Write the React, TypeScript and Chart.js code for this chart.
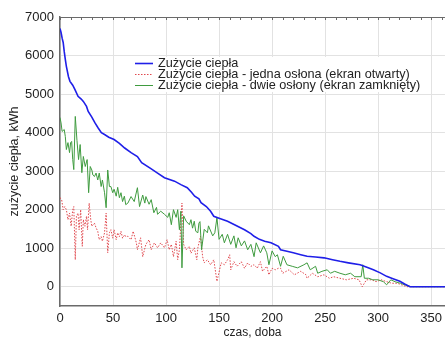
import React, { useEffect, useRef } from 'react';
import { Chart, registerables } from 'chart.js';

Chart.register(...registerables);

// ---- data (days of year, kWh) ----
const blueDays = [0, 1, 2, 3, 4, 5, 6, 8, 9.4, 12, 14, 17, 20, 22, 25, 26.6, 30, 33, 36, 39, 42, 46, 51, 56, 61, 67, 73, 77, 85, 92, 98.5, 108, 114, 120, 124, 127, 131, 133, 138, 142, 145, 150, 158, 166, 174, 180, 183, 188, 193, 199, 206, 208, 214, 220, 227, 233, 241, 249, 257, 264, 272, 283, 290, 295.5, 302, 308, 314, 320.5, 325, 330, 365];
const blueVals = [6700, 6600, 6450, 6340, 6100, 5900, 5720, 5450, 5330, 5230, 5120, 4940, 4870, 4810, 4680, 4550, 4400, 4250, 4120, 4000, 3950, 3880, 3820, 3720, 3600, 3480, 3380, 3220, 3080, 2950, 2830, 2740, 2650, 2570, 2450, 2350, 2280, 2180, 2080, 1960, 1830, 1780, 1700, 1590, 1480, 1380, 1310, 1230, 1180, 1140, 1050, 960, 920, 880, 830, 790, 770, 750, 700, 660, 620, 570, 500, 440, 360, 270, 210, 140, 70, 0, 0];

const redDays = [0, 1.5, 3, 4.5, 6, 7.5, 9, 10.5, 12, 13, 14.4, 15.5, 17, 18, 19.5, 21, 22, 23.5, 25, 26, 27.5, 29, 30, 32.5, 34, 35.6, 37, 38.8, 40, 42, 43.5, 45, 46.6, 48, 49.7, 51, 53, 54.4, 56, 57.5, 59, 61, 62, 64, 67, 69, 72, 73, 76, 78, 81, 84, 86, 89, 92, 95, 98.5, 101, 103, 105, 107, 109.5, 111, 112.6, 115, 116.6, 119, 122, 123.5, 126.6, 128, 129, 130, 132.5, 134.5, 136, 139, 142, 145, 148, 152, 155, 158, 160, 161, 164, 167, 171, 174, 177, 180, 183, 186, 189, 191, 195, 197, 200, 203, 206, 208, 210, 216, 221, 227, 232, 233, 238, 243, 249, 254, 258, 264, 270, 277, 282, 285, 289, 294, 298, 303, 308, 313, 318, 323, 327, 365];
const redVals = [2310, 2270, 2000, 2080, 2000, 1740, 1910, 1570, 2000, 2080, 700, 1830, 1910, 1480, 2000, 1050, 1740, 1570, 1830, 1480, 2170, 1740, 1570, 1650, 1530, 1440, 1220, 1300, 1180, 1400, 1910, 880, 1400, 1480, 1260, 1480, 1220, 1400, 1300, 1440, 1260, 1350, 1300, 1310, 1220, 1440, 1140, 960, 1270, 780, 1100, 1220, 960, 1140, 1010, 1140, 1010, 1220, 960, 1100, 780, 1180, 700, 960, 2170, 1100, 960, 1050, 870, 1010, 830, 700, 1010, 1310, 780, 620, 700, 570, 700, 140, 620, 570, 700, 830, 440, 650, 530, 650, 480, 620, 530, 570, 480, 650, 400, 530, 310, 480, 440, 480, 480, 350, 440, 310, 400, 310, 220, 350, 260, 310, 220, 260, 220, 180, 220, 180, 0, 180, 180, 130, 180, 130, 90, 90, 40, 0, 0];

const greenDays = [0, 1, 2, 4, 5, 6, 7.5, 9, 10, 11, 12, 13, 14.4, 16, 17.5, 19, 20.6, 22, 23.8, 25.6, 27, 28.5, 30, 31, 32.5, 34, 35.6, 37, 38.8, 40, 42, 43.5, 45, 46.6, 48, 49.7, 51, 53, 54.4, 56, 57.5, 59, 60.7, 62, 64, 67, 70, 73, 75, 78, 80, 81, 84, 86, 88.5, 91, 92, 95, 98.5, 101.6, 103, 105, 107, 109.5, 111, 112.6, 114, 115, 116.6, 119, 122, 123.5, 125, 126.6, 128, 130, 131, 132, 133.5, 136, 139, 140, 144, 146, 148, 150, 153, 155, 158, 161, 164, 166, 168, 171, 174, 177, 180, 183, 185, 189, 192, 195, 197, 200, 203, 205, 208, 210.5, 214, 219, 224, 230, 233, 236, 241, 243, 247, 252, 255, 259, 264, 269, 274, 278, 284, 285.5, 287, 291, 295, 300, 305, 308, 312, 316, 321, 326, 331, 365];
const greenVals = [4390, 4250, 4030, 4080, 3900, 3560, 3740, 3480, 3740, 3770, 3300, 3040, 4420, 3800, 3300, 3690, 2960, 3380, 3120, 3300, 2440, 3120, 3030, 2900, 2860, 2950, 2770, 2950, 2600, 2770, 2440, 2050, 3030, 2600, 2600, 2440, 2530, 2350, 2580, 2310, 2440, 2210, 2350, 2130, 2170, 2340, 2210, 2570, 2080, 2380, 2170, 2340, 2140, 2260, 1920, 2060, 1880, 1960, 1880, 1800, 1920, 1610, 2000, 1800, 2000, 1480, 1960, 490, 1840, 1700, 1610, 1740, 1520, 1700, 1440, 1400, 1650, 1690, 960, 1490, 1400, 1580, 1320, 1400, 1790, 1230, 1360, 1140, 1360, 1100, 1320, 1010, 1270, 1060, 1190, 960, 1100, 780, 1140, 880, 1060, 880, 570, 930, 780, 830, 530, 790, 570, 530, 490, 570, 620, 440, 530, 350, 400, 440, 350, 400, 350, 310, 350, 260, 260, 570, 220, 220, 180, 180, 130, 50, 180, 130, 90, 40, 0, 0];

const xTickValues = [0, 50, 100, 150, 200, 250, 300, 350];
const yTickValues = [0, 1000, 2000, 3000, 4000, 5000, 6000, 7000];

const legendLabels = [
  'Zużycie ciepła',
  'Zużycie ciepła - jedna osłona (ekran otwarty)',
  'Zużycie ciepła - dwie osłony (ekran zamknięty)',
];

const BLUE = '#1f1fe8';
const RED = '#e0484e';
const GREEN = '#3f9b3f';
const FONT = "'Liberation Sans', Arial, sans-serif";

const zip = (xs: number[], ys: number[]) => xs.map((x, i) => ({ x, y: ys[i] }));

const framePlugin = {
  id: 'frameAndLegend',
  afterDraw(chart: any) {
    const { ctx, chartArea } = chart;
    const xs = chart.scales.x;
    ctx.save();
    // top frame with minor ticks
    ctx.strokeStyle = '#6a6a6a';
    ctx.lineWidth = 1;
    ctx.beginPath();
    ctx.moveTo(chartArea.left, chartArea.top + 0.5);
    ctx.lineTo(chartArea.right, chartArea.top + 0.5);
    for (let d = 0; d <= 360; d += 10) {
      const px = Math.round(xs.getPixelForValue(d)) + 0.5;
      ctx.moveTo(px, chartArea.top);
      ctx.lineTo(px, chartArea.top + 3);
    }
    ctx.stroke();

    // legend
    ctx.fillStyle = '#ffffff';
    ctx.fillRect(131, 57, 300, 35);
    const colors = [BLUE, RED, GREEN];
    const rows = [63, 74, 85];
    ctx.font = `12.7px ${FONT}`;
    ctx.textBaseline = 'middle';
    ctx.textAlign = 'left';
    rows.forEach((y, i) => {
      ctx.strokeStyle = colors[i];
      ctx.lineWidth = i === 0 ? 1.6 : 1;
      ctx.setLineDash(i === 1 ? [1.5, 1.5] : []);
      ctx.beginPath();
      ctx.moveTo(135, y + 0.5);
      ctx.lineTo(153, y + 0.5);
      ctx.stroke();
      ctx.setLineDash([]);
      ctx.fillStyle = '#222';
      ctx.fillText(legendLabels[i], 158, y + 0.5);
    });
    ctx.restore();
  },
};

export default function App() {
  const ref = useRef<HTMLCanvasElement | null>(null);
  useEffect(() => {
    if (!ref.current) return;
    const chart = new Chart(ref.current, {
      type: 'line',
      data: {
        datasets: [
          {
            label: legendLabels[0],
            data: zip(blueDays, blueVals),
            borderColor: BLUE,
            borderWidth: 1.6,
            pointRadius: 0,
            tension: 0,
          },
          {
            label: legendLabels[2],
            data: zip(greenDays, greenVals),
            borderColor: GREEN,
            borderWidth: 1,
            pointRadius: 0,
            tension: 0,
          },
          {
            label: legendLabels[1],
            data: zip(redDays, redVals),
            borderColor: RED,
            borderWidth: 1,
            borderDash: [1.5, 1.5],
            pointRadius: 0,
            tension: 0,
          },
        ],
      },
      plugins: [framePlugin],
      options: {
        responsive: false,
        animation: false,
        devicePixelRatio: 1,
        layout: { padding: { top: 17, right: 0, left: 0, bottom: 0 } },
        plugins: { legend: { display: false }, tooltip: { enabled: false } },
        scales: {
          x: {
            type: 'linear',
            min: 0,
            max: 363,
            afterFit: (s: any) => { s.height = 35; },
            afterBuildTicks: (s: any) => { s.ticks = xTickValues.map((v) => ({ value: v })); },
            grid: { color: '#e2e2e2', drawTicks: false },
            border: { color: '#6a6a6a', width: 1.5 },
            ticks: { padding: 5, color: '#222', font: { family: FONT, size: 13 }, callback: (v: any) => String(v) },
            title: {
              display: true,
              text: 'czas, doba',
              color: '#222',
              font: { family: FONT, size: 12 },
              padding: { top: 0, bottom: 1 },
            },
          },
          y: {
            type: 'linear',
            min: -500,
            max: 7000,
            afterFit: (s: any) => { s.width = 60; },
            afterBuildTicks: (s: any) => { s.ticks = yTickValues.map((v) => ({ value: v })); },
            grid: { color: '#e2e2e2', drawTicks: false },
            border: { color: '#6a6a6a', width: 1.5 },
            ticks: { padding: 6, color: '#222', font: { family: FONT, size: 13 }, callback: (v: any) => String(v) },
            title: {
              display: true,
              text: 'zużycie ciepła, kWh',
              color: '#222',
              font: { family: FONT, size: 12.5 },
              padding: { top: 7, bottom: 0 },
            },
          },
        },
      },
    });
    return () => chart.destroy();
  }, []);
  return (
    <div style={{ position: 'absolute', left: 0, top: 0, width: 447, height: 341, background: '#fff' }}>
      <canvas ref={ref} width={447} height={341} style={{ display: 'block' }} />
    </div>
  );
}
